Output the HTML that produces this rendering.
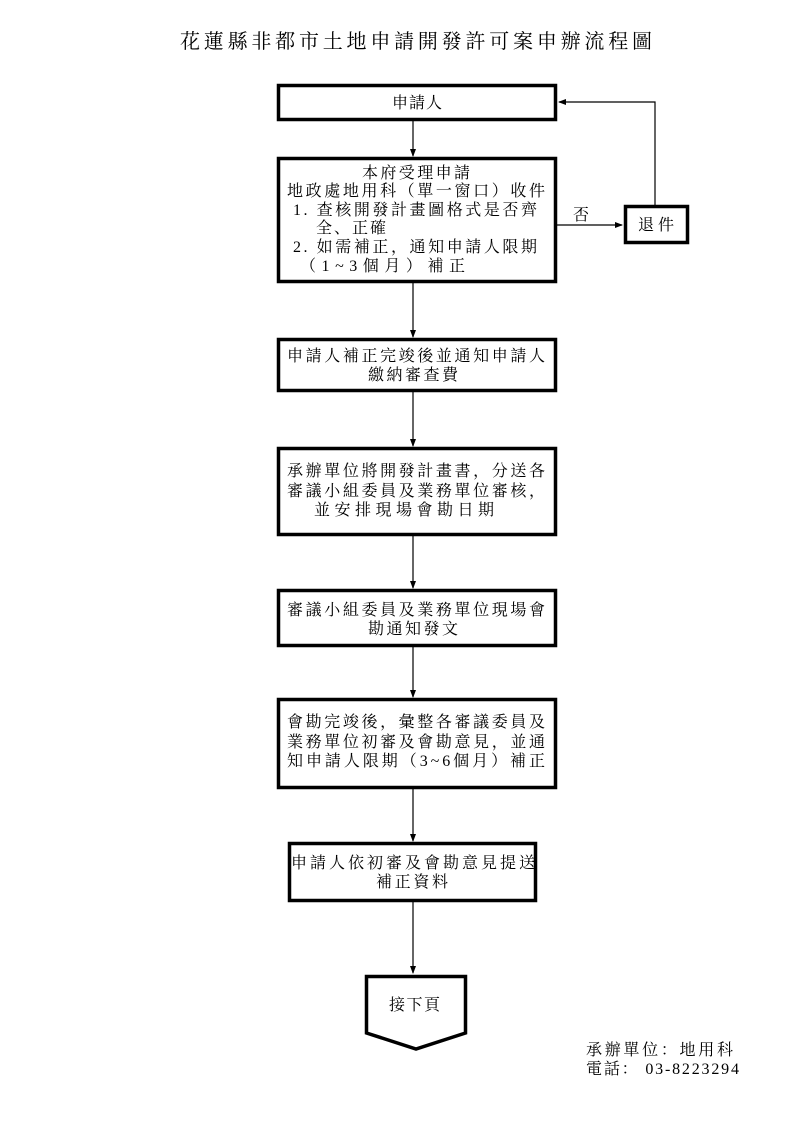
<!DOCTYPE html>
<html><head><meta charset="utf-8"><style>
html,body{margin:0;padding:0;background:#fff;}
svg{display:block;}
text{font-family:"Liberation Serif","Noto Serif CJK SC","Noto Sans CJK TC",serif;fill:#000;}
</style></head><body>
<svg width="794" height="1123" viewBox="0 0 794 1123" xmlns="http://www.w3.org/2000/svg">
<defs><marker id="a" markerWidth="8" markerHeight="8" refX="7" refY="4" orient="auto" markerUnits="userSpaceOnUse"><path d="M0,1 L8,4 L0,7 z" fill="#000"/></marker></defs>
<text x="180" y="48" font-size="20" textLength="472" lengthAdjust="spacing">花蓮縣非都市土地申請開發許可案申辦流程圖</text>
<g fill="none" stroke="#000" stroke-width="3.5">
<rect x="278.5" y="85.5" width="277" height="34"/>
<rect x="278.5" y="158.5" width="277" height="123"/>
<rect x="278.5" y="339.5" width="277" height="51"/>
<rect x="278.5" y="448.5" width="277" height="86"/>
<rect x="278.5" y="590.5" width="277" height="55"/>
<rect x="278.5" y="699.5" width="277" height="88"/>
<rect x="289.5" y="843.5" width="246" height="57"/>
<rect x="625.5" y="206.5" width="62" height="36"/>
<path d="M366.5,976.5 H465.5 V1033 L416,1049 L366.5,1033 Z"/>
</g>
<g stroke="#000" stroke-width="1.2" fill="none">
<line x1="413" y1="121" x2="413" y2="156" marker-end="url(#a)"/>
<line x1="413" y1="283" x2="413" y2="337" marker-end="url(#a)"/>
<line x1="413" y1="392" x2="413" y2="446" marker-end="url(#a)"/>
<line x1="413" y1="536" x2="413" y2="588" marker-end="url(#a)"/>
<line x1="413" y1="647" x2="413" y2="697" marker-end="url(#a)"/>
<line x1="413" y1="789" x2="413" y2="841" marker-end="url(#a)"/>
<line x1="413" y1="902" x2="413" y2="973" marker-end="url(#a)"/>
<line x1="557" y1="225" x2="622" y2="225" marker-end="url(#a)"/>
<polyline points="655,205 655,102 559,102" marker-end="url(#a)"/>
</g>
<g font-size="16" lengthAdjust="spacing">
<text x="392" y="108" textLength="50">申請人</text>
<text x="362" y="178" textLength="108">本府受理申請</text>
<text x="287" y="196" textLength="258">地政處地用科（單一窗口）收件</text>
<text x="293" y="215" textLength="244">1. 查核開發計畫圖格式是否齊</text>
<text x="316" y="233" textLength="70">全、正確</text>
<text x="293" y="252" textLength="244">2. 如需補正，通知申請人限期</text>
<text x="300" y="271" textLength="165">（1~3個月）補正</text>
<text x="573" y="220">否</text>
<text x="638" y="230" textLength="36">退件</text>
<text x="287" y="361" textLength="258">申請人補正完竣後並通知申請人</text>
<text x="368" y="380" textLength="90">繳納審查費</text>
<text x="287" y="476" textLength="258">承辦單位將開發計畫書，分送各</text>
<text x="287" y="496" textLength="258">審議小組委員及業務單位審核，</text>
<text x="314" y="515" textLength="180">並安排現場會勘日期</text>
<text x="287" y="615" textLength="258">審議小組委員及業務單位現場會</text>
<text x="368" y="634" textLength="90">勘通知發文</text>
<text x="287" y="727" textLength="258">會勘完竣後，彙整各審議委員及</text>
<text x="287" y="747" textLength="258">業務單位初審及會勘意見，並通</text>
<text x="287" y="766" textLength="258">知申請人限期（3~6個月）補正</text>
<text x="291" y="868" textLength="244">申請人依初審及會勘意見提送</text>
<text x="376" y="887" textLength="72">補正資料</text>
<text x="389" y="1010" textLength="51">接下頁</text>
</g>
<g font-size="16" lengthAdjust="spacing">
<text x="586" y="1055" textLength="147">承辦單位：地用科</text>
<text x="586" y="1074" textLength="153">電話： 03-8223294</text>
</g>
</svg>
</body></html>
